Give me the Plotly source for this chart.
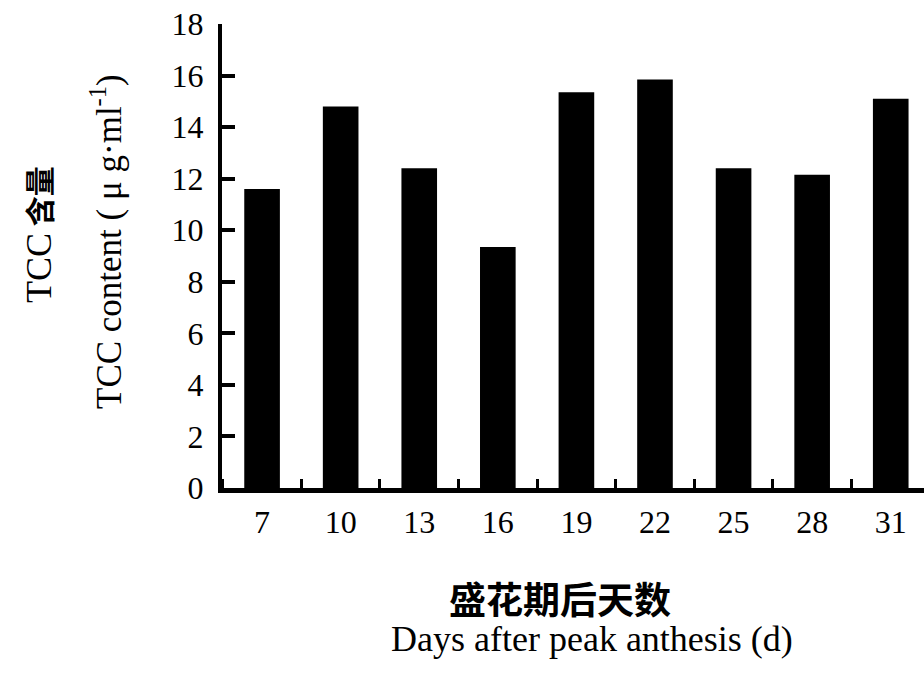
import plotly.graph_objects as go

# Days after peak anthesis and TCC content (μg·ml⁻¹)
days = [7, 10, 13, 16, 19, 22, 25, 28, 31]
tcc = [11.6, 14.8, 12.4, 9.35, 15.35, 15.85, 12.4, 12.15, 15.1]
y_ticks = [0, 2, 4, 6, 8, 10, 12, 14, 16, 18]

W, H = 924, 677
L, R, T, B = 222, 0, 24, 189
pw, ph = W - L - R, H - T - B

def px(x):
    return (x - L) / pw

def py(y):
    return (H - B - y) / ph

serif = "Liberation Serif, Times New Roman, serif"
cjk = "Noto Sans CJK SC, sans-serif"

fig = go.Figure(
    go.Bar(x=days, y=tcc, width=1.36, marker=dict(color="black", line=dict(width=0)))
)

fig.update_layout(
    width=W, height=H,
    margin=dict(l=L, r=R, t=T, b=B),
    paper_bgcolor="white", plot_bgcolor="white",
    showlegend=False,
    font=dict(family=serif, size=32, color="black"),
)

fig.update_xaxes(
    range=[5.47, 32.27],
    tickvals=days, ticktext=[str(d) for d in days],
    ticks="", showgrid=False, zeroline=False,
    showline=True, linecolor="black", linewidth=5,
    tickfont=dict(family=serif, size=32, color="black"),
    ticklabelstandoff=2,
    minor=dict(ticks="inside", tick0=8.5, dtick=3, ticklen=9, tickwidth=2.5,
               tickcolor="black", showgrid=False),
)

fig.update_yaxes(
    range=[0, 18],
    tickvals=y_ticks,
    ticks="inside", ticklen=13, tickwidth=4, tickcolor="black",
    showgrid=False, zeroline=False,
    showline=True, linecolor="black", linewidth=4,
    tickfont=dict(family=serif, size=32, color="black"),
    ticklabelstandoff=8,
)

annotations = [
    dict(text=("<span style='font-family:Liberation Serif;font-size:36px'>TCC</span> "
               "<b>含量</b>"),
         x=px(38), y=py(235), textangle=-90,
         font=dict(family=cjk, size=30)),
    dict(text="TCC content ( μ g·ml<sup>-1</sup>)", x=px(106), y=py(242), textangle=-90,
         font=dict(family=serif, size=35)),
    dict(text="<b>盛花期后天数</b>", x=px(560), y=py(598),
         font=dict(family=cjk, size=37)),
    dict(text="Days after peak anthesis (d)", x=px(592), y=py(639),
         font=dict(family=serif, size=36)),
]
for a in annotations:
    a.update(xref="paper", yref="paper", xanchor="center", yanchor="middle",
             showarrow=False)
fig.update_layout(annotations=annotations)

fig.write_html("out.html")
